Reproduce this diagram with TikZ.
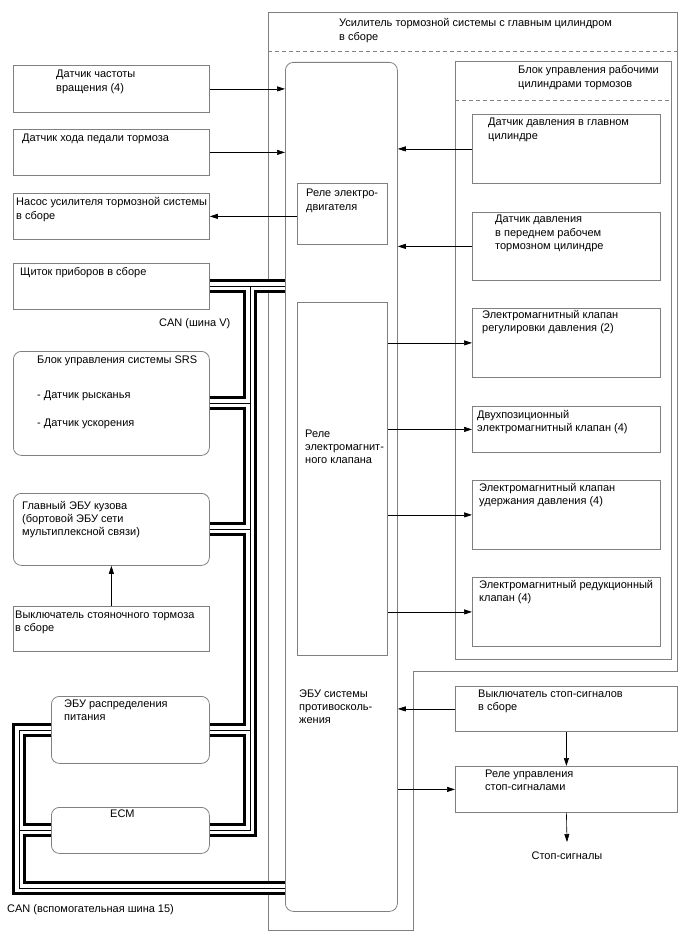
\documentclass[tikz,border=0pt]{standalone}
\usepackage{fontspec}
\setmainfont{Liberation Sans}
\usetikzlibrary{arrows.meta}
\definecolor{boxgray}{RGB}{128,128,128}
\newcommand{\mlines}[1]{\begin{tabular}[t]{@{}l@{}}#1\end{tabular}}
\newcommand{\canpaths}[1]{%
  \draw[#1] (cluster.east) -- (cluster.east -| ecu.west);
  \draw[#1] (jtop) -- (jbot) -- (ecm.east);
  \draw[#1] (srs.east) -- (srs.east -| jtop);
  \draw[#1] (body.east) -- (body.east -| jtop);
  \draw[#1] (psu.east) -- (psu.east -| jtop);
  \draw[#1] (ecu.west |- cb) -- (cb) -- (cb |- psu.west) -- (psu.west);
  \draw[#1] (ecm.west) -- (ecm.west -| cb);
}
\begin{document}
\begin{tikzpicture}[x=1pt,y=-1pt,
  every node/.style={font=\fontsize{11}{13.3}\selectfont},
  bx/.style={draw=boxgray, line width=0.8pt, inner sep=0pt, anchor=north west},
  rbx/.style={bx, rounded corners=8pt},
  txt/.style={anchor=base west, inner sep=0pt},
  arr/.style={draw=black, line width=0.6pt, -{Triangle[length=8pt,width=5pt]}},
  frame/.style={draw=boxgray, line width=0.8pt},
  dsh/.style={draw=boxgray, line width=0.8pt, dash pattern=on 4pt off 3pt},
]
\useasboundingbox (0,0) rectangle (688,949);

% outer assembly frame
\draw[frame] (268,12) -- (677,12) -- (677,671) -- (413,671) -- (413,930) -- (268,930) -- cycle;
\draw[dsh] (268,51) -- (677,51);

% left side boxes
\node[bx, minimum width=196pt, minimum height=47pt] (wss) at (13,65) {};
\node[bx, minimum width=196pt, minimum height=46pt] (pedal) at (13,129) {};
\node[bx, minimum width=196pt, minimum height=46pt] (pump) at (13,193) {};
\node[bx, minimum width=196pt, minimum height=46pt] (cluster) at (13,263) {};
\node[rbx, minimum width=196pt, minimum height=104pt] (srs) at (13,351) {};
\node[rbx, minimum width=196pt, minimum height=72pt] (body) at (13,493) {};
\node[bx, minimum width=196pt, minimum height=45pt] (park) at (13,606) {};
\node[rbx, minimum width=158pt, minimum height=67pt] (psu) at (51,696) {};
\node[rbx, minimum width=158pt, minimum height=46pt] (ecm) at (51,807) {};

% ECU and block
\node[rbx, minimum width=112pt, minimum height=849pt] (ecu) at (285,62) {};
\node[bx, minimum width=216pt, minimum height=598pt] (blk) at (455,61) {};
\draw[dsh] (455,100) -- (671,100);

\node[bx, minimum width=188pt, minimum height=69pt] (msens) at (472,114) {};
\node[bx, minimum width=188pt, minimum height=68pt] (fsens) at (472,212) {};
\node[bx, minimum width=188pt, minimum height=69pt] (v1) at (472,308) {};
\node[bx, minimum width=188pt, minimum height=46pt] (v2) at (472,406) {};
\node[bx, minimum width=188pt, minimum height=69pt] (v3) at (472,480) {};
\node[bx, minimum width=188pt, minimum height=69pt] (v4) at (472,577) {};

\node[bx, minimum width=90pt, minimum height=61pt] (mrel) at (297,183) {};
\node[bx, minimum width=90pt, minimum height=353pt] (srel) at (297,302) {};

\node[bx, minimum width=222pt, minimum height=45pt] (stopsw) at (455,686) {};
\node[bx, minimum width=222pt, minimum height=46pt] (stoprel) at (455,766) {};

% texts
\node[txt] (ttitle) at (339,27) {\mlines{Усилитель тормозной системы с главным цилиндром\\в сборе}};
\node[txt] (tblk) at (518,74) {\mlines{Блок управления рабочими\\цилиндрами тормозов}};
\node[txt] (twss) at (56,78) {\mlines{Датчик частоты\\вращения (4)}};
\node[txt] (tpedal) at (22,142) {Датчик хода педали тормоза};
\node[txt] (tpump) at (16,206) {\mlines{Насос усилителя тормозной системы\\в сборе}};
\node[txt] (tcl) at (20,276) {Щиток приборов в сборе};
\node[txt] (tcanv) at (159,326) {CAN (шина V)};
\node[txt] (tsrsa) at (37,363) {Блок управления системы SRS};
\node[txt] (tsrsb) at (37,398) {- Датчик рысканья};
\node[txt] (tsrsc) at (37,426) {- Датчик ускорения};
\node[txt] (tbody) at (22,509) {\mlines{Главный ЭБУ кузова\\(бортовой ЭБУ сети\\мультиплексной связи)}};
\node[txt] (tpark) at (15,618) {\mlines{Выключатель стояночного тормоза\\в сборе}};
\node[txt] (tpsu) at (64,707) {\mlines{ЭБУ распределения\\питания}};
\node[txt] (tecm) at (110,817) {ECM};
\node[txt] (tcan) at (7,912) {CAN (вспомогательная шина 15)};
\node[txt] (tms) at (488,126) {\mlines{Датчик давления в главном\\цилиндре}};
\node[txt] (tfs) at (495,223) {\mlines{Датчик давления\\в переднем рабочем\\тормозном цилиндре}};
\node[txt] (tmrel) at (306,197) {\mlines{Реле электро-\\двигателя}};
\node[txt] (tva) at (482,318) {\mlines{Электромагнитный клапан\\регулировки давления (2)}};
\node[txt] (tvb) at (477,418) {\mlines{Двухпозиционный\\электромагнитный клапан (4)}};
\node[txt] (tsrel) at (305,437) {\mlines{Реле\\электромагнит-\\ного клапана}};
\node[txt] (tvc) at (479,491) {\mlines{Электромагнитный клапан\\удержания давления (4)}};
\node[txt] (tvd) at (479,588) {\mlines{Электромагнитный редукционный\\клапан (4)}};
\node[txt] (tecu) at (299,697) {\mlines{ЭБУ системы\\противосколь-\\жения}};
\node[txt] (tssw) at (478,697) {\mlines{Выключатель стоп-сигналов\\в сборе}};
\node[txt] (tsrl) at (485,777) {\mlines{Реле управления\\стоп-сигналами}};
\node[anchor=base, inner sep=0pt] (tstop) at (567,859) {Стоп-сигналы};
\coordinate (stopend) at (567,842);

% arrows
\draw[arr] (wss.east) -- (wss.east -| ecu.west);
\draw[arr] (pedal.east) -- (pedal.east -| ecu.west);
\draw[arr] (pump.east -| mrel.west) -- (pump.east);
\draw[arr] (msens.west) -- (msens.west -| ecu.east);
\draw[arr] (fsens.west) -- (fsens.west -| ecu.east);
\draw[arr] (v1.west -| srel.east) -- (v1.west);
\draw[arr] (v2.west -| srel.east) -- (v2.west);
\draw[arr] (v3.west -| srel.east) -- (v3.west);
\draw[arr] (v4.west -| srel.east) -- (v4.west);
\draw[arr] (park.north) -- (body.south);
\draw[arr] (stopsw.west) -- (stopsw.west -| ecu.east);
\draw[arr] (stoprel.west -| ecu.east) -- (stoprel.west);
\draw[arr] (stopsw.south) -- (stoprel.north);
\draw[arr] (stoprel.south) -- (stopend);

% CAN buses
\coordinate (jx) at (250,0);
\coordinate (jtop) at (jx |- cluster.east);
\coordinate (jbot) at (jx |- ecm.east);
\coordinate (cb) at (19,888);
\canpaths{line width=14pt, black}
\canpaths{line width=8pt, white}
\canpaths{line width=0.8pt, black}
\end{tikzpicture}
\end{document}
